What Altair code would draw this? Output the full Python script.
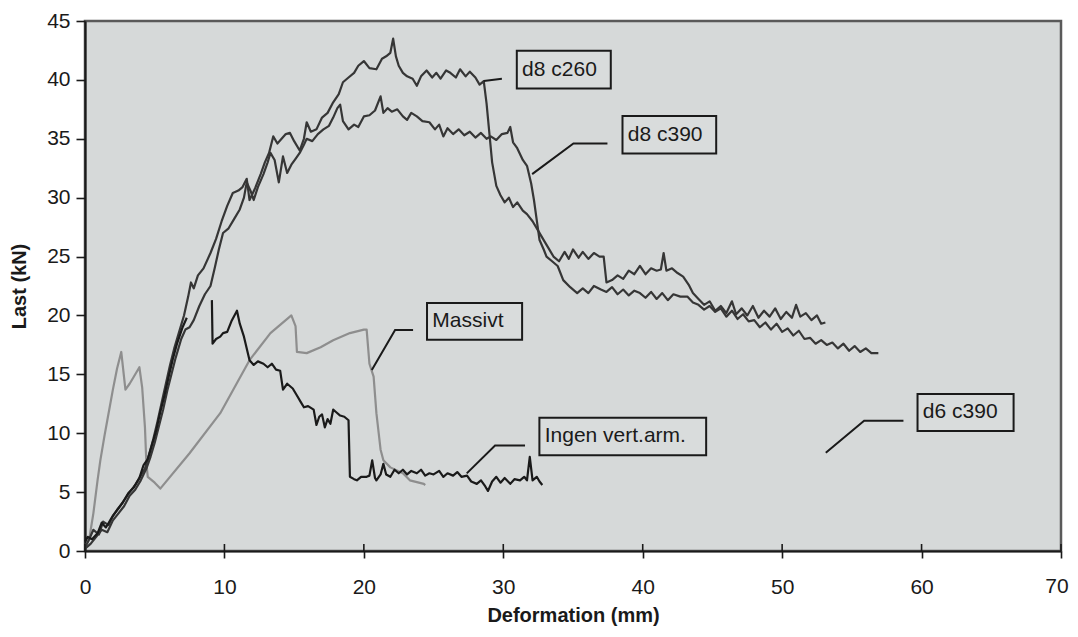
import altair as alt
import pandas as pd

# ---------------- data ----------------
c260_x = [0, 0.3, 0.6, 1.0, 1.3, 1.7, 2.0, 2.4, 2.8, 3.2, 3.6, 4.0, 4.3, 4.6, 4.9, 5.2, 5.5, 5.8, 6.1, 6.4, 6.8, 7.1, 7.4, 7.6, 7.8, 8.1, 8.5, 9.0, 9.4, 9.8, 10.2, 10.6, 11.0, 11.3, 11.6, 11.8, 12.2, 12.6, 12.9, 13.2, 13.5, 13.8, 14.1, 14.4, 14.7, 15.0, 15.4, 15.7, 15.9, 16.2, 16.6, 17.0, 17.4, 17.8, 18.2, 18.5, 18.9, 19.3, 19.6, 20.0, 20.4, 20.9, 21.3, 21.6, 21.9, 22.1, 22.3, 22.5, 22.8, 23.1, 23.5, 23.8, 24.1, 24.5, 24.9, 25.2, 25.5, 25.9, 26.2, 26.6, 26.9, 27.3, 27.6, 28.0, 28.3, 28.6, 28.8, 29.0, 29.2, 29.5, 29.8, 30.1, 30.4, 30.7, 31.0, 31.4, 31.7, 32.1, 32.5, 32.9, 33.2, 33.6, 34.0, 34.4, 34.7, 35.0, 35.4, 35.7, 36.1, 36.5, 36.9, 37.2, 37.4, 37.8, 38.2, 38.6, 39.0, 39.4, 39.8, 40.2, 40.6, 41.0, 41.3, 41.5, 41.7, 42.1, 42.5, 42.9, 43.3, 43.6, 44.0, 44.4, 44.8, 45.2, 45.6, 46.0, 46.4, 46.7, 47.1, 47.5, 47.9, 48.3, 48.7, 49.1, 49.5, 49.9, 50.3, 50.7, 51.0, 51.3, 51.7, 52.1, 52.5, 52.8, 53.1]
c260_y = [0.3, 1.0, 1.8, 1.4, 2.5, 2.2, 3.0, 3.6, 4.3, 5.0, 5.6, 6.4, 7.0, 8.2, 9.5, 11.0, 12.6, 14.2, 15.8, 17.2, 18.8, 20.0, 21.6, 22.8, 22.3, 23.4, 24.0, 25.3, 26.5, 28.0, 29.3, 30.4, 30.6, 30.9, 31.6, 29.8, 30.8, 32.0, 33.0, 33.8, 35.2, 34.6, 35.0, 35.4, 35.5, 34.8, 34.0, 35.0, 36.4, 35.6, 35.8, 36.8, 37.2, 38.1, 38.8, 39.8, 40.2, 40.6, 41.2, 41.6, 41.0, 40.9, 41.8, 42.0, 42.3, 43.5, 42.0, 41.2, 40.6, 40.3, 40.1, 39.5, 40.3, 40.8, 40.2, 40.6, 40.1, 40.8, 40.6, 40.2, 40.9, 40.3, 40.7, 40.2, 39.6, 39.9, 38.0, 35.5, 33.0, 31.0, 30.2, 29.6, 30.0, 29.2, 29.6, 28.9, 28.6, 28.0, 27.2, 26.4, 25.8, 25.0, 24.6, 25.4, 24.8, 25.6, 24.9, 25.4, 24.8, 25.3, 25.0, 25.0, 22.8, 23.0, 23.4, 23.1, 23.8, 23.5, 24.2, 23.5, 24.0, 23.8, 23.9, 25.3, 23.8, 24.0, 23.6, 23.3, 22.6, 21.9, 21.4, 20.9, 21.2, 20.4, 20.8, 20.2, 21.2, 20.1, 20.6, 20.0, 20.8, 19.8, 20.4, 19.9, 20.6, 19.7, 20.3, 19.8, 20.9, 19.9, 20.2, 19.6, 20.0, 19.3, 19.4]

c390_x = [0, 0.4, 0.8, 1.2, 1.6, 2.0, 2.4, 2.8, 3.2, 3.6, 4.0, 4.4, 4.7, 5.0, 5.3, 5.6, 5.9, 6.2, 6.5, 6.9, 7.2, 7.5, 7.8, 8.2, 8.6, 9.0, 9.3, 9.6, 9.9, 10.3, 10.7, 11.1, 11.4, 11.6, 11.9, 12.1, 12.4, 12.8, 13.1, 13.3, 13.6, 13.9, 14.2, 14.5, 14.8, 15.1, 15.4, 15.7, 15.9, 16.3, 16.7, 17.1, 17.5, 17.8, 18.1, 18.3, 18.5, 18.9, 19.3, 19.6, 20.0, 20.4, 20.8, 21.2, 21.4, 21.7, 22.0, 22.4, 22.8, 23.1, 23.4, 23.8, 24.2, 24.7, 25.1, 25.4, 25.7, 26.0, 26.4, 26.8, 27.2, 27.6, 28.0, 28.4, 28.8, 29.1, 29.5, 29.9, 30.3, 30.5, 30.7, 31.0, 31.4, 31.7, 32.0, 32.2, 32.4, 32.6, 32.9, 33.1, 33.5, 33.9, 34.3, 34.8, 35.3, 35.7, 36.1, 36.5, 37.0, 37.4, 37.8, 38.2, 38.6, 39.0, 39.4, 39.8, 40.2, 40.6, 41.0, 41.4, 41.8, 42.2, 42.7, 43.2, 43.6, 44.0, 44.4, 44.8, 45.2, 45.6, 46.0, 46.4, 46.8, 47.2, 47.6, 48.0, 48.4, 48.8, 49.2, 49.6, 50.0, 50.4, 50.8, 51.2, 51.6, 52.0, 52.4, 52.8, 53.2, 53.6, 54.0, 54.4, 54.8, 55.2, 55.6, 56.0, 56.4, 56.9]
c390_y = [0.2, 0.6, 1.2, 1.8, 1.6, 2.6, 3.2, 3.8, 4.7, 5.2, 6.0, 7.0, 8.0, 9.2, 10.6, 12.0, 13.6, 15.0, 16.4, 18.0, 18.8, 19.0, 19.6, 20.8, 21.8, 22.5, 24.0, 25.6, 27.0, 27.4, 28.2, 29.0, 30.0, 31.3, 30.5, 29.8, 30.9, 32.0, 33.0, 33.8, 33.2, 31.3, 33.5, 32.1, 32.8, 33.3, 33.8, 34.5, 35.0, 34.8, 35.4, 35.8, 36.1, 36.8, 37.6, 37.9, 36.5, 35.8, 36.2, 36.0, 36.9, 37.0, 37.4, 38.6, 37.2, 37.6, 37.3, 37.5, 36.9, 36.6, 37.2, 36.9, 36.5, 36.4, 35.8, 36.2, 35.2, 35.9, 35.4, 35.8, 35.3, 35.6, 35.1, 35.5, 35.0, 35.2, 34.9, 35.4, 35.5, 36.0, 34.7, 34.2, 33.2, 32.7, 31.2, 29.8, 28.1, 26.4, 25.6, 25.0, 24.6, 24.2, 23.0, 22.4, 21.9, 22.3, 21.9, 22.5, 22.2, 22.0, 22.4, 21.8, 22.2, 21.7, 22.1, 21.9, 21.5, 22.0, 21.4, 21.9, 21.3, 21.8, 21.6, 21.6, 21.1, 20.9, 20.5, 20.8, 20.3, 20.6, 19.9, 20.4, 19.7, 20.1, 19.5, 19.6, 19.0, 19.4, 18.8, 19.3, 18.6, 18.9, 18.3, 18.7, 18.0, 18.1, 17.6, 17.9, 17.5, 17.7, 17.2, 17.6, 17.0, 17.4, 16.9, 17.2, 16.8, 16.8]

ingen_rise_x = [0, 0.2, 0.5, 0.9, 1.2, 1.5, 1.9, 2.3, 2.7, 3.1, 3.5, 3.9, 4.2, 4.5, 4.8, 5.1, 5.4, 5.7, 6.0, 6.3, 6.6, 7.0, 7.3]
ingen_rise_y = [0.8, 1.2, 1.0, 1.5, 2.4, 2.0, 2.8, 3.5, 4.1, 4.9, 5.4, 6.2, 7.3, 7.8, 9.0, 10.2, 11.8, 13.2, 14.8, 16.3, 17.6, 19.0, 19.8]
ingen_x = [9.1, 9.15, 9.4, 9.7, 9.9, 10.2, 10.5, 10.9, 11.1, 11.4, 11.8, 12.1, 12.4, 12.8, 13.1, 13.4, 13.7, 14.0, 14.2, 14.5, 14.9, 15.2, 15.5, 15.7, 16.0, 16.4, 16.6, 16.8, 17.0, 17.2, 17.4, 17.6, 17.8, 18.0, 18.3, 18.6, 18.9, 19.0, 19.3, 19.5, 19.8, 20.2, 20.4, 20.6, 20.8, 20.9, 21.2, 21.4, 21.6, 21.9, 22.2, 22.5, 22.8, 23.1, 23.4, 23.8, 24.1, 24.4, 24.7, 25.0, 25.4, 25.7, 26.0, 26.4, 26.7, 27.0, 27.4, 27.7, 28.1, 28.4, 28.7, 28.9, 29.2, 29.5, 29.8, 30.1, 30.5, 30.8, 31.2, 31.5, 31.7, 31.9, 32.1, 32.4, 32.6, 32.8]
ingen_y = [21.3, 17.6, 18.0, 18.2, 18.5, 18.6, 19.5, 20.4, 19.3, 18.2, 16.2, 15.8, 16.1, 15.9, 15.6, 15.9, 15.4, 15.3, 13.7, 14.2, 13.8, 13.2, 12.6, 12.2, 12.3, 12.0, 10.7, 11.4, 11.6, 10.5, 11.2, 10.8, 12.0, 11.8, 11.5, 11.4, 11.1, 6.3, 6.1, 6.0, 6.3, 6.3, 6.4, 7.7, 6.2, 6.0, 6.5, 7.4, 6.5, 6.3, 6.9, 6.6, 6.9, 6.5, 6.8, 6.6, 6.9, 6.4, 6.6, 6.5, 6.8, 6.3, 6.6, 6.4, 6.7, 6.3, 6.4, 5.9, 5.7, 6.0, 5.5, 5.1, 5.9, 6.3, 5.8, 6.2, 5.7, 6.1, 6.0, 6.3, 6.0, 8.0, 6.0, 6.3, 5.9, 5.6]

massivt_x = [0.0, 0.3, 0.6, 0.9, 1.1, 1.4, 1.6, 2.0, 2.3, 2.6, 2.9, 3.2, 3.5, 3.9, 4.1, 4.3, 4.4, 4.5, 5.0, 5.4, 7.5, 9.7, 11.8, 13.3, 14.8, 15.1, 15.2, 15.9, 16.9, 17.8, 19.0, 20.0, 20.2, 20.4, 20.7, 20.9, 21.2, 21.4, 21.9, 22.8, 23.3, 24.3, 24.4]
massivt_y = [0.3, 1.0, 3.2, 6.0, 7.7, 9.8, 11.1, 13.7, 15.5, 16.9, 13.7, 14.2, 14.8, 15.6, 13.9, 10.5, 7.5, 6.3, 5.8, 5.3, 8.3, 11.7, 16.2, 18.5, 20.0, 19.1, 16.9, 16.8, 17.3, 17.9, 18.5, 18.8, 18.8, 15.9, 14.8, 11.7, 8.6, 7.7, 7.1, 6.6, 6.0, 5.7, 5.6]

ann_labels = ["d8 c260", "d8 c390", "Massivt", "Ingen vert.arm.", "d6 c390"]
box_x1 = [30.97, 38.55, 24.53, 32.59, 59.71]
box_x2 = [37.71, 45.27, 31.35, 44.55, 66.60]
box_y1 = [39.27, 33.76, 17.93, 8.14, 10.19]
box_y2 = [42.47, 36.94, 21.05, 11.32, 13.34]
ptr_x = [[28.6, 29.9], [32.07, 35.03, 37.47], [20.57, 22.24, 23.53], [27.38, 29.41, 31.56], [53.13, 55.88, 58.70]]
ptr_y = [[39.9, 40.1], [32.0, 34.6, 34.6], [15.37, 18.76, 18.76], [6.59, 8.96, 8.96], [8.34, 11.06, 11.06]]

x_ticks = [0, 10, 20, 30, 40, 50, 60, 70]
y_ticks = [0, 5, 10, 15, 20, 25, 30, 35, 40, 45]
last_x_label = [70]

# ---------------- tables ----------------
rows = []
def add(name, seg, xs, ys):
    for i, (a, b) in enumerate(zip(xs, ys)):
        rows.append({"serie": name, "seg": seg, "i": i, "x": a, "y": b})

add("Massivt", "m", massivt_x, massivt_y)
add("d8 c260", "a", c260_x, c260_y)
add("d8 c390", "b", c390_x, c390_y)
add("Ingen", "ir", ingen_rise_x, ingen_rise_y)
add("Ingen", "i", ingen_x, ingen_y)
lines_df = pd.DataFrame(rows)

boxes_df = pd.DataFrame({
    "label": ann_labels, "x1": box_x1, "x2": box_x2, "y1": box_y1, "y2": box_y2,
})
boxes_df["tx"] = boxes_df["x1"] + 0.38
boxes_df["ty"] = (boxes_df["y1"] + boxes_df["y2"]) / 2

prow = []
for k, lab in enumerate(ann_labels):
    for i, (a, b) in enumerate(zip(ptr_x[k], ptr_y[k])):
        prow.append({"label": lab, "i": i, "x": a, "y": b})
ptr_df = pd.DataFrame(prow)
ticks_df = pd.DataFrame({"t": x_ticks})
last_df = pd.DataFrame({"t": last_x_label, "lab": [str(v) for v in last_x_label]})

FONT = "Liberation Sans"
xs = alt.Scale(domain=[0, 70], nice=False, zero=False)
ys = alt.Scale(domain=[0, 45], nice=False, zero=False)

x_axis = alt.Axis(values=x_ticks, grid=False, tickSize=7, tickColor="#1a1a1a", tickWidth=1.6,
                  domainColor="#1a1a1a", domainWidth=2.2, labelFontSize=21, labelFont=FONT,
                  labelColor="#1a1a1a", labelPadding=18, title="Deformation (mm)",
                  labelExpr="datum.value == 70 ? '' : datum.label",
                  titleFont=FONT, titleFontSize=20, titleFontWeight="bold", titleColor="#1a1a1a",
                  titlePadding=8, labelFlush=False)
y_axis = alt.Axis(values=y_ticks, grid=False, tickSize=9, tickColor="#1a1a1a", tickWidth=1.6,
                  domainColor="#1a1a1a", domainWidth=2.2, labelFontSize=21, labelFont=FONT,
                  labelColor="#1a1a1a", labelPadding=6, title="Last (kN)",
                  titleFont=FONT, titleFontSize=20, titleFontWeight="bold", titleColor="#1a1a1a",
                  titlePadding=17, labelFlush=False)

lines = alt.Chart(lines_df).mark_line(strokeWidth=2.2, strokeJoin="round").encode(
    x=alt.X("x:Q", scale=xs, axis=x_axis),
    y=alt.Y("y:Q", scale=ys, axis=y_axis),
    color=alt.Color("serie:N", legend=None,
                    scale=alt.Scale(domain=["Massivt", "d8 c260", "d8 c390", "Ingen"],
                                    range=["#8e8e8e", "#363636", "#363636", "#1a1a1a"])),
    detail="seg:N",
    order="i:Q",
)

inner_ticks = alt.Chart(ticks_df).mark_rule(color="#1a1a1a", strokeWidth=1.6).encode(
    x=alt.X("t:Q", scale=xs), y=alt.value(523), y2=alt.value(530)
)

last_label = alt.Chart(last_df).mark_text(align="center", baseline="top", font=FONT, fontSize=21,
                                          color="#1a1a1a", dx=-4).encode(
    x=alt.X("t:Q", scale=xs), y=alt.value(555), text="lab:N"
)

pointers = alt.Chart(ptr_df).mark_line(color="#1a1a1a", strokeWidth=2).encode(
    x=alt.X("x:Q", scale=xs), y=alt.Y("y:Q", scale=ys), detail="label:N", order="i:Q"
)

boxes = alt.Chart(boxes_df).mark_rect(fill="#d9dcdc", stroke="#1a1a1a", strokeWidth=2).encode(
    x=alt.X("x1:Q", scale=xs), x2="x2:Q", y=alt.Y("y1:Q", scale=ys), y2="y2:Q"
)

texts = alt.Chart(boxes_df).mark_text(align="left", baseline="middle", font=FONT,
                                      fontSize=21, color="#1a1a1a").encode(
    x=alt.X("tx:Q", scale=xs), y=alt.Y("ty:Q", scale=ys), text="label:N"
)

chart = alt.layer(lines, inner_ticks, last_label, pointers, boxes, texts).properties(
    width=976, height=530,
    autosize=alt.AutoSizeParams(type="none"),
    padding={"left": 77, "top": 13, "right": 9, "bottom": 78},
    background="white",
).configure_view(fill="#d6d9d9", stroke="#5a5a5a", strokeWidth=2.5, clip=False)

chart.save("out.html", embed_options={"renderer": "svg", "actions": False})
